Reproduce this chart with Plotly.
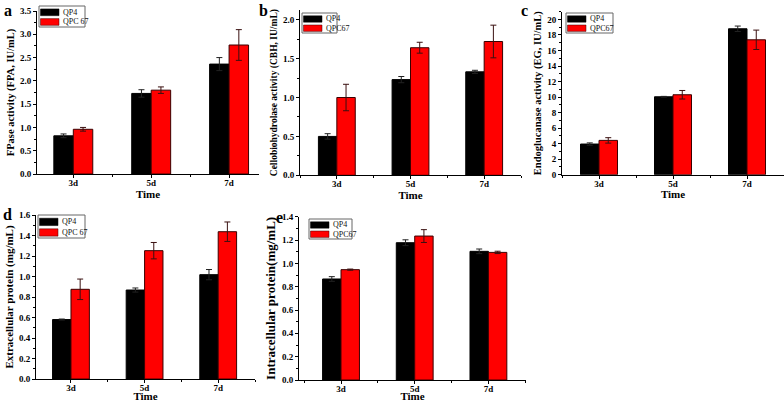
import plotly.graph_objects as go

# ---------------- data ----------------
days = ["3d", "5d", "7d"]

fpa_qp4 = [0.82, 1.73, 2.36]
fpa_qp4_err = [0.04, 0.08, 0.14]
fpa_qpc67 = [0.96, 1.80, 2.77]
fpa_qpc67_err = [0.04, 0.07, 0.33]

cbh_qp4 = [0.50, 1.23, 1.33]
cbh_qp4_err = [0.035, 0.04, 0.02]
cbh_qpc67 = [1.00, 1.64, 1.72]
cbh_qpc67_err = [0.17, 0.07, 0.21]

eg_qp4 = [3.95, 10.04, 18.8]
eg_qp4_err = [0.15, 0.05, 0.35]
eg_qpc67 = [4.42, 10.3, 17.38]
eg_qpc67_err = [0.35, 0.55, 1.25]

ext_qp4 = [0.58, 0.868, 1.018]
ext_qp4_err = [0.005, 0.02, 0.05]
ext_qpc67 = [0.875, 1.252, 1.437]
ext_qpc67_err = [0.10, 0.08, 0.095]

int_qp4 = [0.866, 1.177, 1.103]
int_qp4_err = [0.02, 0.025, 0.02]
int_qpc67 = [0.946, 1.234, 1.094]
int_qpc67_err = [0.005, 0.055, 0.01]

W, H = 784, 402
FONT = "Liberation Serif"

panels = [
    dict(letter="a", a=fpa_qp4, ae=fpa_qp4_err, b=fpa_qpc67, be=fpa_qpc67_err, bname="QPC 67",
         ytitle="FPase activity (FPA, IU/mL)", xpix=(37, 259), ypix=(11, 174),
         xr=[-0.466, 2.384], yr=[0, 3.5], dtick=0.5, minor=0.25, tfs=10.5, fmt=".1f",
         lpos=(8, 10), legbox=(39, 6, 85, 27)),
    dict(letter="b", a=cbh_qp4, ae=cbh_qp4_err, b=cbh_qpc67, be=cbh_qpc67_err, bname="QPC67",
         ytitle="Cellobiohydrolase activity (CBH, IU/mL)", xpix=(300, 521), ypix=(10, 175.3),
         xr=[-0.5, 2.5], yr=[0, 2.125], dtick=0.5, minor=0.25, tfs=9.5, fmt=".1f",
         lpos=(263, 10), legbox=(302, 13, 337, 33)),
    dict(letter="c", a=eg_qp4, ae=eg_qp4_err, b=eg_qpc67, be=eg_qpc67_err, bname="QPC67",
         ytitle="Endoglucanase activity (EG, IU/mL)", xpix=(562, 784), ypix=(11.7, 174.7),
         xr=[-0.5, 2.5], yr=[0, 21], dtick=2, minor=1, tfs=10.5, fmt="d",
         lpos=(524, 10), legbox=(566, 13, 613, 33)),
    dict(letter="d", a=ext_qp4, ae=ext_qp4_err, b=ext_qpc67, be=ext_qpc67_err, bname="QPC 67",
         ytitle="Extracellular protein (mg/mL)", xpix=(36, 255), ypix=(215, 379),
         xr=[-0.475, 2.5], yr=[0, 1.6], dtick=0.2, minor=0.1, tfs=11, fmt=".1f",
         lpos=(8, 215), legbox=(38, 215, 85, 238)),
    dict(letter="e", a=int_qp4, ae=int_qp4_err, b=int_qpc67, be=int_qpc67_err, bname="QPC67",
         ytitle="Intracellular protein(mg/mL)", xpix=(299, 526), ypix=(216.7, 380),
         xr=[-0.57, 2.51], yr=[0, 1.4], dtick=0.2, minor=0.1, tfs=13, fmt=".1f",
         lpos=(279, 217), legbox=(309, 219, 352, 239)),
]

QP4_COLOR = "black"
QPC_COLOR = "#ff0000"

fig = go.Figure()
xs = list(range(len(days)))
layout = dict(
    width=W, height=H, margin=dict(l=0, r=0, t=0, b=0),
    paper_bgcolor="white", plot_bgcolor="white",
    barmode="group", bargap=0.5, bargroupgap=0, showlegend=False,
    font=dict(family=FONT, color="black"),
    annotations=[], shapes=[],
)


def px(x):
    return x / W


def py(y):
    return 1 - y / H


for i, p in enumerate(panels):
    n = "" if i == 0 else str(i + 1)
    xa, ya = "x" + n, "y" + n
    fig.add_trace(go.Bar(
        x=xs, y=p["a"], name="QP4", xaxis=xa, yaxis=ya,
        marker=dict(color=QP4_COLOR, line=dict(color="black", width=1)),
        error_y=dict(type="data", array=p["ae"], color="#222222", thickness=1, width=3),
    ))
    fig.add_trace(go.Bar(
        x=xs, y=p["b"], name=p["bname"], xaxis=xa, yaxis=ya,
        marker=dict(color=QPC_COLOR, line=dict(color="#3a0000", width=1)),
        error_y=dict(type="data", array=p["be"], color="#3a1010", thickness=1, width=3),
    ))
    x0, x1 = p["xpix"]
    y0, y1 = p["ypix"]
    layout["xaxis" + n] = dict(
        domain=[px(x0), px(x1)], anchor=ya, range=p["xr"],
        tickmode="array", tickvals=xs, ticktext=days,
        ticks="outside", ticklen=3, tickwidth=1, tickcolor="black",
        minor=dict(tickmode="array", tickvals=[-0.5, 0.5, 1.5, 2.5], ticks="outside",
                   ticklen=2, tickcolor="black"),
        showline=True, linecolor="black", linewidth=1, showgrid=False, zeroline=False,
        tickfont=dict(family=FONT, size=9, weight="bold"), ticklabelstandoff=-3,
        title=dict(text="Time", font=dict(family=FONT, size=11, weight="bold"), standoff=0),
        automargin=False, fixedrange=True,
    )
    layout["yaxis" + n] = dict(
        domain=[py(y1), py(y0)], anchor=xa, range=p["yr"],
        dtick=p["dtick"], tick0=0, tickformat=p["fmt"],
        ticks="outside", ticklen=3, tickwidth=1, tickcolor="black",
        minor=dict(dtick=p["minor"], ticks="outside", ticklen=2, tickcolor="black", showgrid=False),
        showline=True, linecolor="black", linewidth=1, showgrid=False, zeroline=False,
        tickfont=dict(family=FONT, size=9, weight="bold"),
        title=dict(text=p["ytitle"], font=dict(family=FONT, size=p["tfs"], weight="bold"), standoff=3),
        automargin=False, fixedrange=True,
    )
    # legend box drawn in Origin style
    bx0, by0, bx1, by1 = p["legbox"]
    bh = by1 - by0
    layout["shapes"].append(dict(type="rect", xref="paper", yref="paper",
                                 x0=px(bx0), x1=px(bx1), y0=py(by1), y1=py(by0),
                                 line=dict(color="#666666", width=1), fillcolor="white"))
    for k, (name, col, lc) in enumerate([("QP4", QP4_COLOR, "black"), (p["bname"], QPC_COLOR, "#3a0000")]):
        ry0 = by0 + bh * (0.14 + 0.46 * k)
        ry1 = ry0 + bh * 0.32
        layout["shapes"].append(dict(type="rect", xref="paper", yref="paper",
                                     x0=px(bx0 + 1.5), x1=px(bx0 + 20), y0=py(ry1), y1=py(ry0),
                                     line=dict(color=lc, width=0.5), fillcolor=col))
        layout["annotations"].append(dict(
            text=name, x=px(bx0 + 21.5), y=py((ry0 + ry1) / 2), xref="paper", yref="paper",
            xanchor="left", yanchor="middle", showarrow=False,
            font=dict(family=FONT, size=8, color="#111111"),
        ))
    layout["annotations"].append(dict(
        text=p["letter"], x=px(p["lpos"][0]), y=py(p["lpos"][1]), xref="paper", yref="paper",
        xanchor="center", yanchor="middle", showarrow=False,
        font=dict(family=FONT, size=16, weight="bold"),
    ))

fig.update_layout(**layout)
fig.write_html("out.html", config={"displayModeBar": False},
               post_script="document.body.style.margin='0';document.body.style.overflow='hidden';")
